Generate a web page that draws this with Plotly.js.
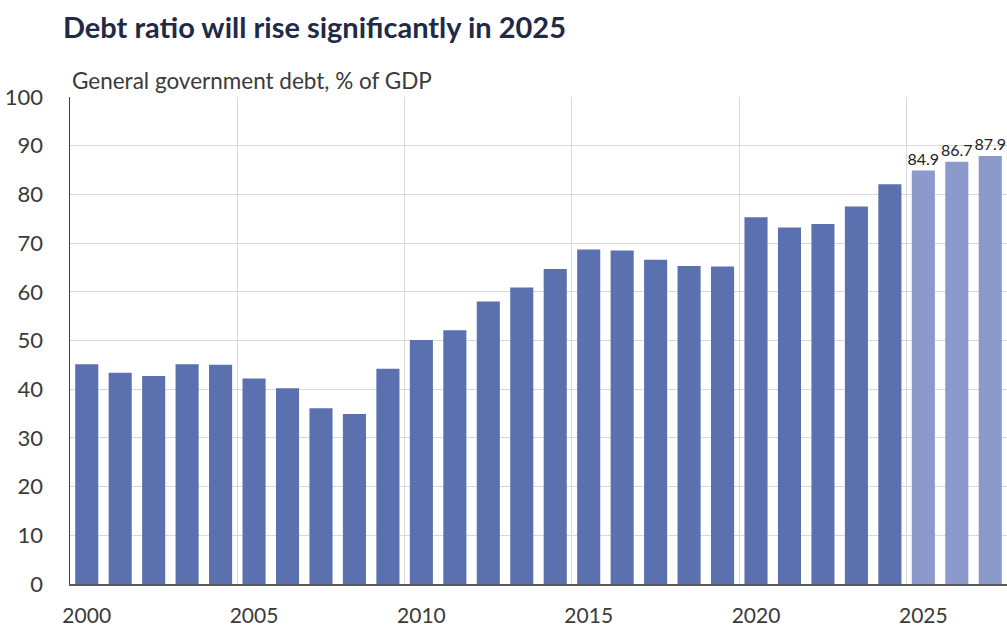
<!DOCTYPE html>
<html>
<head>
<meta charset="utf-8">
<script src="https://cdn.plot.ly/plotly-3.0.1.min.js"></script>
<style>html,body{margin:0;padding:0;background:#fff;}#chart{width:1007px;height:628px;}</style>
</head>
<body>
<div id="chart"></div>
<script>
const years = [2000,2001,2002,2003,2004,2005,2006,2007,2008,2009,2010,2011,2012,2013,2014,2015,2016,2017,2018,2019,2020,2021,2022,2023,2024,2025,2026,2027];
const debtRatio = [45.1,43.4,42.7,45.1,45.0,42.2,40.2,36.1,34.9,44.2,50.1,52.1,58.0,60.9,64.7,68.7,68.5,66.6,65.3,65.2,75.3,73.2,73.9,77.5,82.1,84.9,86.7,87.9];
const firstForecastYear = 2025;
const xTickVals = [2000,2005,2010,2015,2020,2025];
const yTickVals = [0,10,20,30,40,50,60,70,80,90,100];

const colorActual = '#5b70ae';
const colorForecast = '#8c9acb';

const barColors = years.map(y => y >= firstForecastYear ? colorForecast : colorActual);
const barText = years.map((y, i) => y >= firstForecastYear ? debtRatio[i].toFixed(1) : '');

const trace = {
  type: 'bar',
  x: years,
  y: debtRatio,
  marker: {color: barColors},
  text: barText,
  textposition: 'outside',
  constraintext: 'none',
  textfont: {family: 'Lato, "Open Sans", sans-serif', size: 16, color: '#222'},
  cliponaxis: false,
  hoverinfo: 'x+y'
};

const layout = {
  width: 1007,
  height: 628,
  margin: {l: 70, r: 0, t: 97, b: 44},
  paper_bgcolor: '#fff',
  plot_bgcolor: '#fff',
  font: {family: 'Lato, "Open Sans", sans-serif', color: '#3a3a3a'},
  showlegend: false,
  bargap: 0.31,
  title: {
    text: '<b>Debt ratio will rise significantly in 2025</b>',
    font: {family: 'Lato, "Open Sans", sans-serif', size: 29, color: '#1f2a48'},
    xref: 'container', yref: 'container',
    x: 63/1007, xanchor: 'left',
    y: 1 - 28/628, yanchor: 'middle'
  },
  xaxis: {
    range: [1999.5, 2027.5],
    tickmode: 'array',
    tickvals: xTickVals,
    ticktext: xTickVals.map(String),
    showgrid: false,
    minor: {tickmode: 'linear', tick0: 1999.5, dtick: 5, showgrid: true, gridcolor: '#d9d9d9', gridwidth: 1, ticks: ''},
    ticks: '',
    ticklabelstandoff: 12,
    tickfont: {size: 21, color: '#3a3a3a'},
    showline: true,
    linecolor: '#5a5a5a',
    linewidth: 1.5,
    zeroline: false,
    fixedrange: true
  },
  yaxis: {
    range: [0, 100],
    tickmode: 'array',
    tickvals: yTickVals,
    showgrid: true,
    gridcolor: '#d9d9d9',
    gridwidth: 1,
    ticks: '',
    ticklabelstandoff: 21,
    tickfont: {size: 22, color: '#3a3a3a'},
    showline: true,
    linecolor: '#3a3f55',
    linewidth: 1.5,
    zeroline: false,
    fixedrange: true
  },
  annotations: [{
    text: 'General government debt, % of GDP',
    xref: 'paper', yref: 'paper',
    x: 0, xanchor: 'left',
    y: 1, yanchor: 'bottom', yshift: 1,
    showarrow: false,
    font: {family: 'Lato, "Open Sans", sans-serif', size: 22.5, color: '#3a3a3a'}
  }]
};

Plotly.newPlot('chart', [trace], layout, {displayModeBar: false, staticPlot: true});
</script>
</body>
</html>
